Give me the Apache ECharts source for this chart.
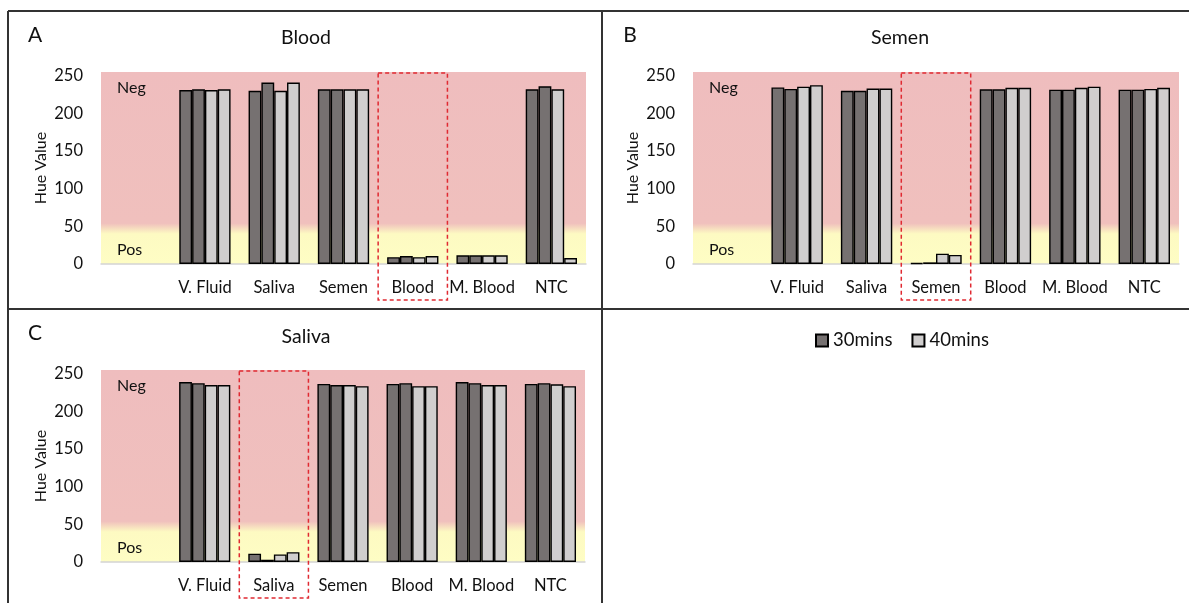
<!DOCTYPE html>
<html>
<head>
<meta charset="utf-8">
<script src="https://cdn.jsdelivr.net/npm/echarts@6/dist/echarts.min.js"></script>
<style>
html,body{margin:0;padding:0;background:#fff;}
#chart{width:1189px;height:603px;}
</style>
</head>
<body>
<div id="chart"></div>
<script>
// ---- data ----
const categories = ['', 'V. Fluid', 'Saliva', 'Semen', 'Blood', 'M. Blood', 'NTC'];
const yTicks = [0, 50, 100, 150, 200, 250];
const seriesNames = ['30mins', '40mins'];

// Panel A: Blood
const bloodTitle = 'Blood';
const blood30a = [null, 231, 230, 232, 9, 11.5, 232];
const blood30b = [null, 232, 241, 232, 10.5, 11.5, 236];
const blood40a = [null, 231, 230, 232, 9, 11.5, 232];
const blood40b = [null, 232, 241, 232, 10.5, 11.5, 8];
const bloodTarget = 'Blood';

// Panel B: Semen
const semenTitle = 'Semen';
const semen30a = [null, 234.5, 230, 1.3, 232, 231.5, 231.5];
const semen30b = [null, 232.5, 230, 2.2, 232, 231.5, 231.5];
const semen40a = [null, 235.5, 233, 13.7, 234, 234, 232.5];
const semen40b = [null, 237.5, 233, 12, 234, 235.5, 234];
const semenTarget = 'Semen';

// Panel C: Saliva
const salivaTitle = 'Saliva';
const saliva30a = [null, 239, 11, 236.5, 236.5, 239, 236.5];
const saliva30b = [null, 237.5, 3, 235, 237.5, 237.5, 237.5];
const saliva40a = [null, 235, 10, 235, 233.5, 235, 236];
const saliva40b = [null, 235, 13, 233.5, 233.5, 235, 233.5];
const salivaTarget = 'Saliva';

// ---- layout / style ----
const FONT = 'Lato';
const TXT = '#111';
const DARK = '#767171';
const LIGHT = '#d0cece';
const Y_MAX = 255;

const panels = [
  {letter: 'A', title: bloodTitle, target: bloodTarget, vals: [blood30a, blood30b, blood40a, blood40b],
   grid: {left: 101, top: 72, width: 485, height: 192}, letterPos: [35, 35], titlePos: [306, 38]},
  {letter: 'B', title: semenTitle, target: semenTarget, vals: [semen30a, semen30b, semen40a, semen40b],
   grid: {left: 693, top: 72, width: 486, height: 192}, letterPos: [630, 35], titlePos: [900, 38]},
  {letter: 'C', title: salivaTitle, target: salivaTarget, vals: [saliva30a, saliva30b, saliva40a, saliva40b],
   grid: {left: 101, top: 370, width: 484, height: 192}, letterPos: [35, 333], titlePos: [306, 337]}
];

const bgGradient = {
  type: 'linear', x: 0, y: 0, x2: 0, y2: 1,
  colorStops: [
    {offset: 0, color: '#efbdbe'},
    {offset: (Y_MAX - 54) / Y_MAX, color: '#f0c0bd'},
    {offset: (Y_MAX - 40) / Y_MAX, color: '#fdfac2'},
    {offset: 1, color: '#fefdc4'}
  ]
};

const grids = [], xAxes = [], yAxes = [], series = [], graphics = [];

panels.forEach((p, i) => {
  grids.push(Object.assign({show: true, backgroundColor: bgGradient, borderWidth: 0, containLabel: false}, p.grid));
  xAxes.push({
    type: 'category', gridIndex: i, data: categories,
    axisTick: {show: false},
    axisLine: {lineStyle: {color: '#d4d4d4', width: 1.5}},
    axisLabel: {interval: 0, color: TXT, fontFamily: FONT, fontSize: 16.5, margin: 15}
  });
  yAxes.push({
    type: 'value', gridIndex: i, min: 0, max: Y_MAX, interval: 50,
    splitLine: {show: false}, axisLine: {show: false}, axisTick: {show: false},
    axisLabel: {color: TXT, fontFamily: FONT, fontSize: 16.5, margin: 18, showMaxLabel: false,
      formatter: v => (yTicks.indexOf(v) >= 0 ? String(v) : '')},
    name: 'Hue Value', nameLocation: 'middle', nameRotate: 90, nameGap: 52,
    nameTextStyle: {color: TXT, fontFamily: FONT, fontSize: 16}
  });
  p.vals.forEach((arr, k) => {
    series.push({
      type: 'bar', name: seriesNames[k < 2 ? 0 : 1], xAxisIndex: i, yAxisIndex: i,
      data: arr, barGap: '0%', barCategoryGap: '26%',
      itemStyle: {color: k < 2 ? DARK : LIGHT, borderColor: '#000', borderWidth: 1.4},
      emphasis: {disabled: true}, animation: false
    });
  });
  const targetIdx = categories.indexOf(p.target);
  series.push({
    type: 'custom', xAxisIndex: i, yAxisIndex: i, clip: false, z: 10, silent: true,
    data: [[targetIdx, Y_MAX]],
    renderItem: (params, api) => {
      const top = api.coord([api.value(0), Y_MAX]);
      const base = api.coord([api.value(0), 0]);
      const bw = api.size([1, 0])[0];
      const left0 = api.coord([0, 0])[0] - bw / 2;
      return {
        type: 'group',
        children: [
          {type: 'rect', shape: {x: top[0] - bw / 2, y: top[1] + 1, width: bw, height: base[1] + 36 - top[1] - 1},
           style: {fill: 'none', stroke: '#e02a32', lineWidth: 1.5, lineDash: [4, 3]}},
          {type: 'text', x: left0 + 16, y: api.coord([0, 234])[1],
           style: {text: 'Neg', fill: TXT, font: '16px ' + FONT, verticalAlign: 'middle'}},
          {type: 'text', x: left0 + 16, y: api.coord([0, 19])[1],
           style: {text: 'Pos', fill: TXT, font: '16px ' + FONT, verticalAlign: 'middle'}}
        ]
      };
    },
    animation: false
  });
  graphics.push({type: 'text', x: p.letterPos[0], y: p.letterPos[1],
    style: {text: p.letter, fill: TXT, font: '21px ' + FONT, align: 'center', verticalAlign: 'middle'}});
  graphics.push({type: 'text', x: p.titlePos[0], y: p.titlePos[1],
    style: {text: p.title, fill: TXT, font: '19.5px ' + FONT, align: 'center', verticalAlign: 'middle'}});
});

// frame lines
const frameStyle = {stroke: '#333', lineWidth: 2};
graphics.push({type: 'line', shape: {x1: 8, y1: 11, x2: 1189, y2: 11}, style: frameStyle});
graphics.push({type: 'line', shape: {x1: 8, y1: 11, x2: 8, y2: 603}, style: frameStyle});
graphics.push({type: 'line', shape: {x1: 602, y1: 11, x2: 602, y2: 603}, style: frameStyle});
graphics.push({type: 'line', shape: {x1: 8, y1: 309, x2: 1189, y2: 309}, style: frameStyle});

const chart = echarts.init(document.getElementById('chart'), null, {renderer: 'canvas'});
chart.setOption({
  animation: false,
  backgroundColor: '#fff',
  textStyle: {fontFamily: FONT},
  legend: {
    data: seriesNames, left: 815, top: 331, padding: 0,
    itemWidth: 12, itemHeight: 12, itemGap: 19, icon: 'rect',
    textStyle: {color: TXT, fontFamily: FONT, fontSize: 18.5},
    selectedMode: false
  },
  grid: grids, xAxis: xAxes, yAxis: yAxes, series: series,
  graphic: graphics
});
</script>
</body>
</html>
